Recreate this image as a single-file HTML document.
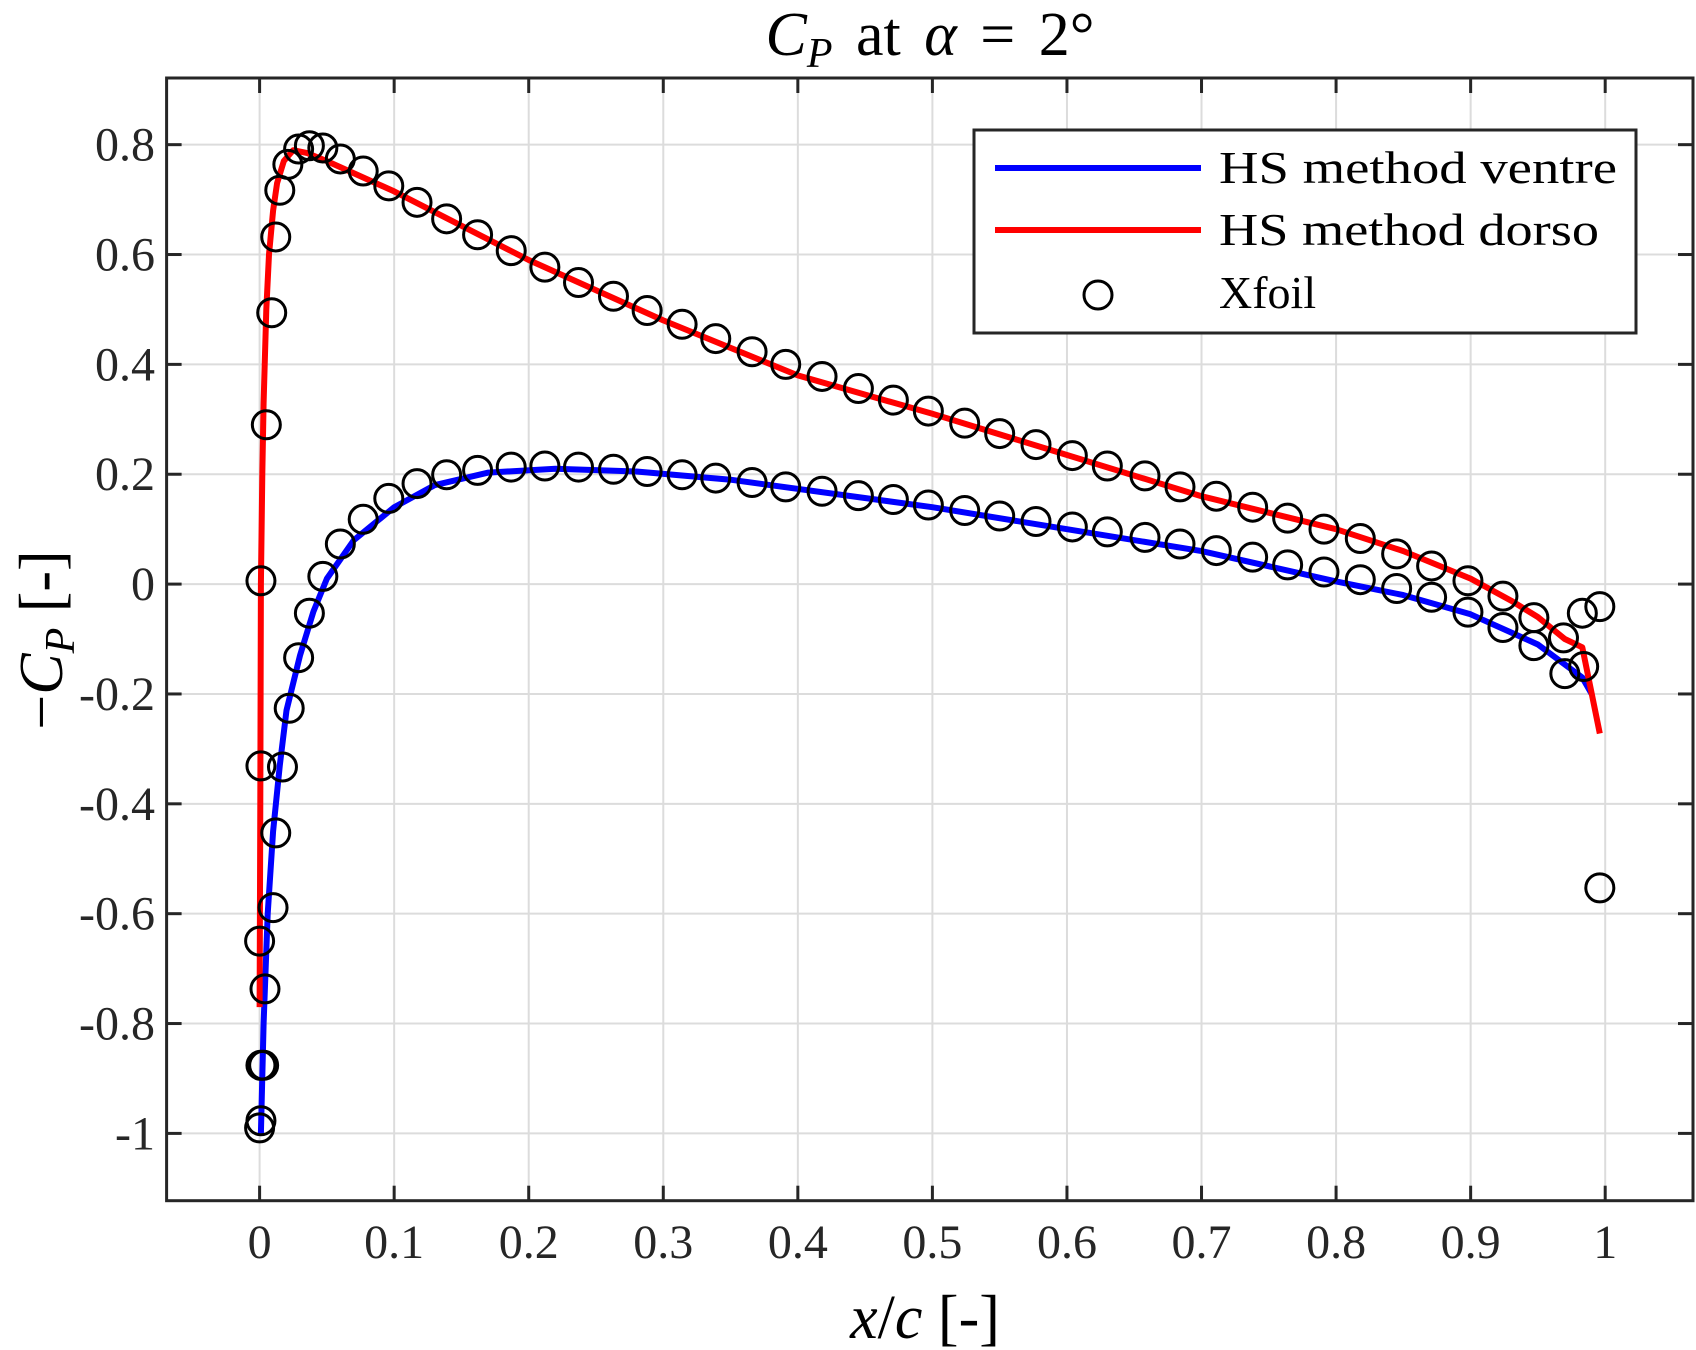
<!DOCTYPE html>
<html><head><meta charset="utf-8"><style>
html,body{margin:0;padding:0;background:#fff;}
svg{display:block;font-family:"Liberation Serif",serif;}
</style></head><body>
<svg id="chart" width="1696" height="1350" viewBox="0 0 1696 1350" xmlns="http://www.w3.org/2000/svg">
<rect x="0" y="0" width="1696" height="1350" fill="#fff"/>
<g id="grid"></g>
<g id="series"></g>
<g id="axes"></g>
<text x="930" y="55" font-size="62" text-anchor="middle" word-spacing="8"><tspan font-style="italic">C</tspan><tspan font-style="italic" font-size="42" dy="12">P</tspan><tspan dy="-12"> at </tspan><tspan font-style="italic">α</tspan><tspan> = 2°</tspan></text>
<text x="925" y="1338" font-size="62" text-anchor="middle"><tspan font-style="italic">x</tspan>/<tspan font-style="italic">c</tspan> [-]</text>
<text transform="translate(62,640) rotate(-90)" font-size="62" text-anchor="middle">−<tspan font-style="italic">C</tspan><tspan font-style="italic" font-size="42" dy="12">P</tspan><tspan dy="-12"> [-]</tspan></text>
<g>
<rect x="974" y="130" width="662" height="203" fill="#fff" stroke="#262626" stroke-width="3"/>
<line x1="995" y1="168" x2="1201" y2="168" stroke="#0000ff" stroke-width="6"/>
<text x="1219" y="183" font-size="46" textLength="398" lengthAdjust="spacingAndGlyphs">HS method ventre</text>
<line x1="995" y1="230" x2="1201" y2="230" stroke="#ff0000" stroke-width="6"/>
<text x="1219" y="245" font-size="46" textLength="380" lengthAdjust="spacingAndGlyphs">HS method dorso</text>
<circle cx="1098" cy="295" r="14" fill="none" stroke="#000" stroke-width="3"/>
<text x="1219" y="308" font-size="46">Xfoil</text>
</g>
</svg>
<script>
const xTicks=[0,0.1,0.2,0.3,0.4,0.5,0.6,0.7,0.8,0.9,1];
const xTickLabels=["0","0.1","0.2","0.3","0.4","0.5","0.6","0.7","0.8","0.9","1"];
const yTicks=[-1,-0.8,-0.6,-0.4,-0.2,0,0.2,0.4,0.6,0.8];
const yTickLabels=["-1","-0.8","-0.6","-0.4","-0.2","0","0.2","0.4","0.6","0.8"];
const dorsoX=[0,0.0005,0.001,0.002,0.003,0.005,0.007,0.01,0.013,0.018,0.025,0.035,0.05,0.1,0.2,0.3,0.4,0.5,0.6,0.7,0.8,0.85,0.9,0.93,0.95,0.97,0.983,0.996];
const dorsoY=[-0.77,-0.4,0,0.2,0.33,0.5,0.6,0.68,0.73,0.77,0.79,0.785,0.77,0.715,0.59,0.48,0.38,0.31,0.235,0.16,0.1,0.06,0.01,-0.03,-0.06,-0.1,-0.115,-0.272];
const ventreX=[0.001,0.003,0.006,0.01,0.015,0.02,0.03,0.04,0.05,0.07,0.1,0.13,0.17,0.22,0.28,0.35,0.5,0.6,0.7,0.8,0.85,0.9,0.95,0.983,0.99];
const ventreY=[-1,-0.8,-0.6,-0.45,-0.33,-0.23,-0.13,-0.05,0.01,0.08,0.14,0.18,0.203,0.21,0.205,0.19,0.14,0.1,0.06,0.005,-0.02,-0.055,-0.11,-0.17,-0.2];
const xfoilX=[0.001,0.005,0.009,0.012,0.015,0.021,0.029,0.037,0.047,0.06,0.077,0.096,0.117,0.139,0.162,0.187,0.212,0.237,0.263,0.288,0.314,0.339,0.366,0.391,0.418,0.445,0.471,0.497,0.524,0.55,0.577,0.604,0.63,0.658,0.684,0.711,0.738,0.764,0.791,0.818,0.845,0.871,0.898,0.924,0.947,0.969,0.983,0.996,
 0,0.001,0.001,0.003,0.004,0.01,0.012,0.017,0.022,0.029,0.037,0.047,0.06,0.077,0.096,0.117,0.139,0.162,0.187,0.212,0.237,0.263,0.288,0.314,0.339,0.366,0.391,0.418,0.445,0.471,0.497,0.524,0.55,0.577,0.604,0.63,0.658,0.684,0.711,0.738,0.764,0.791,0.818,0.845,0.871,0.898,0.924,0.947,0.97,0.984,0.996,0,0.001];
const xfoilY=[0.006,0.29,0.494,0.632,0.717,0.764,0.792,0.798,0.794,0.774,0.752,0.725,0.695,0.665,0.636,0.607,0.577,0.549,0.524,0.498,0.473,0.447,0.423,0.4,0.378,0.356,0.335,0.315,0.293,0.274,0.254,0.234,0.215,0.197,0.177,0.16,0.14,0.12,0.1,0.083,0.055,0.033,0.006,-0.022,-0.061,-0.098,-0.053,-0.041,
 -0.99,-0.977,-0.876,-0.876,-0.737,-0.589,-0.453,-0.333,-0.226,-0.134,-0.053,0.014,0.073,0.118,0.156,0.183,0.199,0.207,0.213,0.215,0.213,0.209,0.205,0.199,0.193,0.185,0.177,0.169,0.161,0.154,0.144,0.134,0.124,0.114,0.104,0.095,0.085,0.073,0.061,0.049,0.035,0.022,0.008,-0.008,-0.024,-0.051,-0.079,-0.112,-0.163,-0.15,-0.553,-0.65,-0.331];
const NS="http://www.w3.org/2000/svg";
const L=166.6,R=1693,T=78,B=1200.7;
function sx(v){return 259.6+v*1345.6;}
function sy(v){return 584.1-v*549.3;}
function mk(tag,attrs,parent){const e=document.createElementNS(NS,tag);for(const k in attrs)e.setAttribute(k,attrs[k]);parent.appendChild(e);return e;}
const grid=document.getElementById('grid'),axes=document.getElementById('axes'),series=document.getElementById('series');
xTicks.forEach((t,i)=>{
 const g=mk('line',{x1:sx(t),x2:sx(t),y1:T,y2:B,stroke:'#dcdcdc','stroke-width':2},grid);
 
 const a=mk('line',{x1:sx(t),x2:sx(t),y1:B,y2:B-15,stroke:'#262626','stroke-width':3},axes);
 
 const b=mk('line',{x1:sx(t),x2:sx(t),y1:T,y2:T+15,stroke:'#262626','stroke-width':3},axes);
 
 const tx=mk('text',{x:sx(t),y:1258,'font-size':48,'text-anchor':'middle',fill:'#262626'},axes);
 tx.textContent=xTickLabels[i];
 
});
yTicks.forEach((t,i)=>{
 const g=mk('line',{x1:L,x2:R,y1:sy(t),y2:sy(t),stroke:'#dcdcdc','stroke-width':2},grid);
 
 const a=mk('line',{x1:L,x2:L+15,y1:sy(t),y2:sy(t),stroke:'#262626','stroke-width':3},axes);
 
 const b=mk('line',{x1:R,x2:R-15,y1:sy(t),y2:sy(t),stroke:'#262626','stroke-width':3},axes);
 
 const tx=mk('text',{x:155,y:sy(t)+16,'font-size':48,'text-anchor':'end',fill:'#262626'},axes);
 tx.textContent=yTickLabels[i];
 
});
const box=mk('rect',{x:L,y:T,width:R-L,height:B-T,fill:'none',stroke:'#262626','stroke-width':3},axes);

function path(xs,ys){return xs.map((x,i)=>(i?'L':'M')+sx(x).toFixed(1)+' '+sy(ys[i]).toFixed(1)).join(' ');}
const pv=mk('path',{d:path(ventreX,ventreY),fill:'none',stroke:'#0000ff','stroke-width':6,'stroke-linejoin':'round'},series);

const pd=mk('path',{d:path(dorsoX,dorsoY),fill:'none',stroke:'#ff0000','stroke-width':6,'stroke-linejoin':'round'},series);

xfoilX.forEach((x,i)=>{
 const c=mk('circle',{cx:sx(x),cy:sy(xfoilY[i]),r:14,fill:'none',stroke:'#000','stroke-width':3},series);
 
});
</script>
</body></html>
